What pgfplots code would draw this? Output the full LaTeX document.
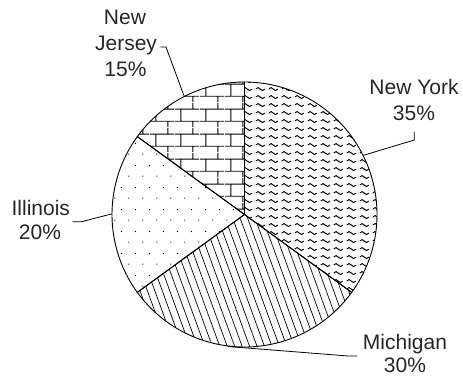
\documentclass[border=0pt]{standalone}
\usepackage{fontspec}
\setmainfont{Liberation Sans}
\usepackage{pgfplots}
\pgfplotsset{compat=1.18}
\usetikzlibrary{patterns,patterns.meta}

% small tilde waves in rows
\tikzdeclarepattern{
  name=wavelets,
  type=uncolored,
  bounding box={(0pt,0pt) and (12.7pt,8.4pt)},
  tile size={(12.7pt,8.4pt)},
  code={
    \draw[line width=1pt] (1.8pt,4.2pt) sin (4.1pt,5.8pt) cos (6.4pt,4.2pt)
      sin (8.7pt,2.6pt) cos (11pt,4.2pt);
  }
}
% brick wall, 25 x 12.5
\tikzdeclarepattern{
  name=brickwall,
  type=uncolored,
  bounding box={(0pt,0pt) and (25pt,25pt)},
  tile size={(25pt,25pt)},
  code={
    \draw[line width=0.9pt] (0pt,6pt) -- (25pt,6pt) (0pt,18.5pt) -- (25pt,18.5pt)
      (6pt,6pt) -- (6pt,18.5pt) (18.5pt,18.5pt) -- (18.5pt,25pt)
      (18.5pt,0pt) -- (18.5pt,6pt);
  }
}
% sparse staggered dots
\tikzdeclarepattern{
  name=sparsedots,
  type=uncolored,
  bounding box={(0pt,0pt) and (14pt,22pt)},
  tile size={(14pt,22pt)},
  code={
    \fill (3pt,3pt) circle (0.7pt);
    \fill (10pt,14pt) circle (0.7pt);
  }
}

% one pie slice: share before it, its share (percent), style
\newcommand{\slice}[3]{%
  \addplot[draw=black, line width=0.9pt, line join=round, pattern color=black, #3,
    domain={90-3.6*(#1+#2)}:{90-3.6*(#1)}, samples=120, variable=\t]
    ({cos(\t)}, {sin(\t)}) -- (axis cs:0,0) -- cycle;
}

\begin{document}
\begin{tikzpicture}
\begin{axis}[
  width=463pt, height=377pt, scale only axis,
  xmin=-1.8453, xmax=1.6491, ymin=-1.2264, ymax=1.6189,
  hide axis, clip=false,
]
% keep the whole axis area as the picture's extent
\path (axis cs:-1.8453,-1.2264) rectangle (axis cs:1.6491,1.6189);

% shares: New York 35, Michigan 30, Illinois 20, New Jersey 15
\slice{0}{35}{pattern=wavelets}
\slice{35}{30}{pattern={Lines[angle=-70,distance=7pt,line width=0.7pt]}}
\slice{65}{20}{pattern=sparsedots}
\slice{85}{15}{pattern=brickwall}

% leader lines
\draw[line width=0.8pt] (axis cs:-0.6340,1.2642) -- (axis cs:-0.5925,1.2642) -- (axis cs:-0.4543,0.8891);
\draw[line width=0.8pt] (axis cs:1.2815,0.6249) -- (axis cs:1.2815,0.5623) -- (axis cs:0.8981,0.4468);
\draw[line width=0.8pt] (axis cs:-1.2966,-0.0543) -- (axis cs:-1.2287,-0.0543) -- (axis cs:-1.0,0.005);
\draw[line width=0.8pt] (axis cs:-0.1245,-0.9962) -- (axis cs:0.7811,-1.0679) -- (axis cs:0.8491,-1.0679);

% labels
\begin{scope}[every node/.style={anchor=base, inner sep=0pt, font=\fontsize{21}{25}\selectfont, text=black!85}]
\node at (axis cs:1.2792,0.9019) {New York};
\node at (axis cs:1.2792,0.7132) {35\%};
\node at (axis cs:1.2113,-1.0174) {Michigan};
\node at (axis cs:1.2113,-1.1930) {30\%};
\node at (axis cs:-1.5374,-0.0038) {Illinois};
\node at (axis cs:-1.5434,-0.1872) {20\%};
\node at (axis cs:-0.9019,1.4302) {New};
\node at (axis cs:-0.8943,1.2377) {Jersey};
\node at (axis cs:-0.8981,1.0415) {15\%};
\end{scope}
\end{axis}
\end{tikzpicture}
\end{document}
